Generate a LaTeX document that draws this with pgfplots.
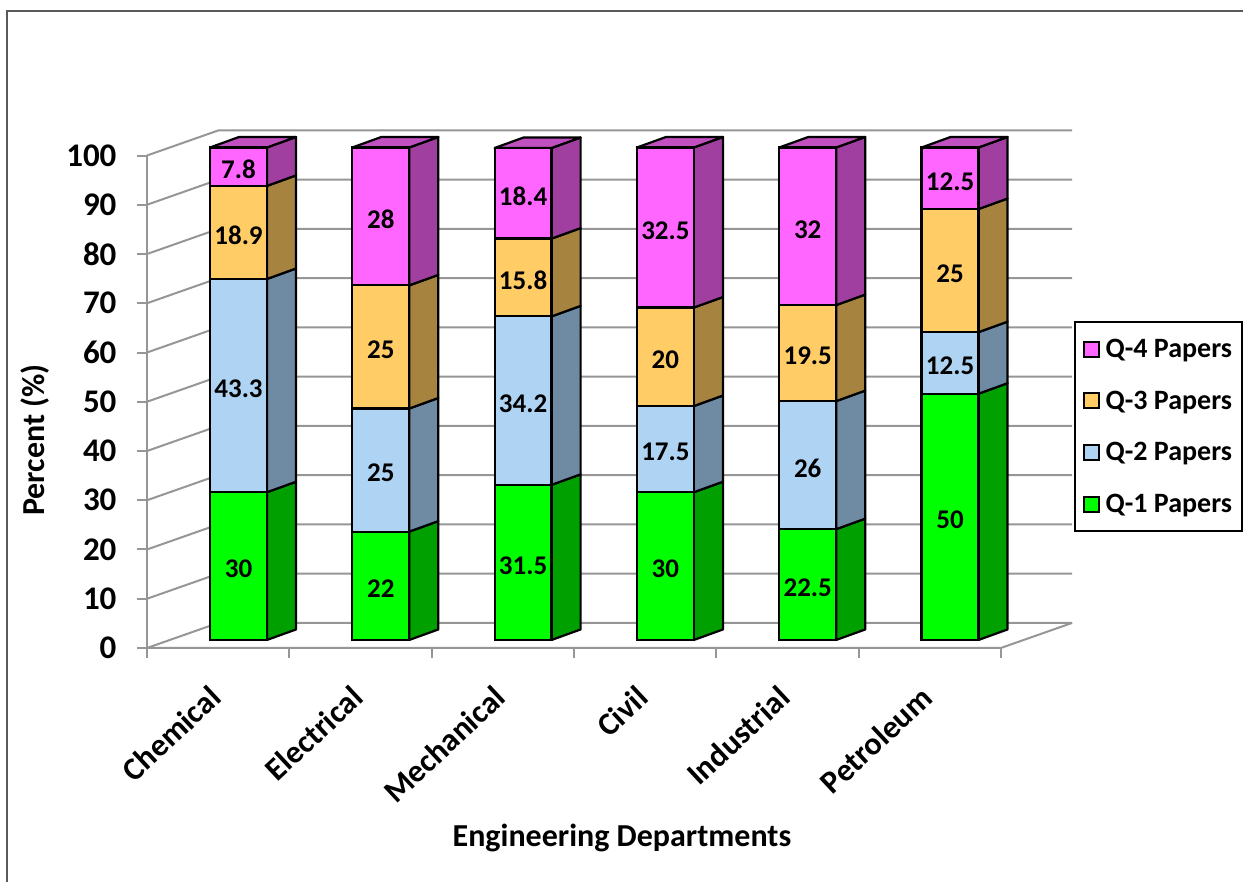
\documentclass[border=0pt]{standalone}
\usepackage{pgfplots}
\usepackage{pgfplotstable}
\usepackage{fontspec}
\setmainfont{Carlito}
\pgfplotsset{compat=1.18}

\definecolor{wallgray}{HTML}{969696}
\definecolor{qfour}{HTML}{FF66FF}
\definecolor{qthree}{HTML}{FFCC66}
\definecolor{qtwo}{HTML}{AFD3F3}
\definecolor{qone}{HTML}{00FF00}
\definecolor{qfourside}{HTML}{A03FA0}
\definecolor{qthreeside}{HTML}{A6833F}
\definecolor{qtwoside}{HTML}{6F8AA3}
\definecolor{qoneside}{HTML}{00A000}
\definecolor{qfourtop}{HTML}{C04FC0}

\pgfplotstableread{
x     base q1   q2   q3   q4
0.143 1.63 30   43.3 18.9 7.8
1.143 1.63 22   25   25   28
2.143 1.63 31.5 34.2 15.8 18.4
3.143 1.63 30   17.5 20   32.5
4.143 1.63 22.5 26   19.5 32
5.143 1.63 50   12.5 25   12.5
}\papers

\pgfplotsset{
  chartbox/.style={
    scale only axis, width=925pt, height=517.5pt,
    at={(147pt,234pt)}, anchor=south west,
    xmin=-0.5, xmax=6, ymin=0, ymax=105.08,
  },
  wall/.style={draw=wallgray, line width=2pt, forget plot},
  barlabel/.style={
    nodes near coords,
    point meta=explicit symbolic,
    every node near coord/.style={
      anchor=center, font=\fontsize{27}{32}\selectfont\bfseries, text=black,
      yshift=-3pt,
    },
  },
}

% side face of one bar segment, category k, from lo to hi
\newcommand\sideface[4]{%
  \pgfmathsetmacro\xa{#1+0.343}%
  \pgfmathsetmacro\xb{#1+0.547}%
  \pgfmathsetmacro\ya{1.63+#2}%
  \pgfmathsetmacro\yb{3.76+#2}%
  \pgfmathsetmacro\yc{3.76+#3}%
  \pgfmathsetmacro\yd{1.63+#3}%
  \addplot[fill=#4, draw=black, line width=2.2pt, line join=round, forget plot]
    coordinates {(\xa,\ya) (\xb,\yb) (\xb,\yc) (\xa,\yd)} -- cycle;
}
% all four side faces and the top of a bar, from the stacked boundaries
\newcommand\sidebar[5]{%
  \sideface{#1}{0}{#2}{qoneside}
  \sideface{#1}{#2}{#3}{qtwoside}
  \sideface{#1}{#3}{#4}{qthreeside}
  \sideface{#1}{#4}{#5}{qfourside}
  \pgfmathsetmacro\xl{#1-0.057}%
  \pgfmathsetmacro\xr{#1+0.343}%
  \pgfmathsetmacro\xs{#1+0.147}%
  \pgfmathsetmacro\xt{#1+0.547}%
  \pgfmathsetmacro\yl{1.63+#5}%
  \pgfmathsetmacro\yh{3.76+#5}%
  \addplot[fill=qfourtop, draw=black, line width=2.2pt, line join=round, forget plot]
    coordinates {(\xl,\yl) (\xs,\yh) (\xt,\yh) (\xr,\yl)} -- cycle;
}

\begin{document}
\begin{tikzpicture}[x=1pt,y=1pt]
\useasboundingbox (0,0) rectangle (1243,882);
\draw[color=black!65, line width=2.5pt] (7,0) -- (7,871) -- (1243,871);

% walls, floor, side faces, legend
\begin{axis}[
  chartbox,
  axis line style={draw=none},
  xtick pos=bottom, ytick pos=left,
  tick align=outside,
  major tick length=10pt,
  tick style={draw=wallgray, line width=2pt},
  xtick={-0.5,0.5,1.5,2.5,3.5,4.5,5.5},
  xticklabels={Chemical,Electrical,Mechanical,Civil,Industrial,Petroleum,},
  ytick={0,10,...,100},
  yticklabel style={/pgf/number format/assume math mode=true},
  ticklabel style={font=\fontsize{33}{40}\selectfont\bfseries},
  xticklabel style={font=\fontsize{32}{38}\selectfont\bfseries, rotate=43, anchor=north east, xshift=30pt, yshift=-57pt},
  yticklabel style={xshift=-17pt},
  xlabel={Engineering Departments},
  ylabel={Percent (\%)},
  label style={font=\fontsize{32}{38}\selectfont\bfseries},
  xlabel style={at={(axis description cs:0.5135,-0.367)}, anchor=center},
  ylabel style={at={(axis description cs:-0.121,0.402)}, anchor=center},
  clip=false,
  legend cell align=left,
  legend image code/.code={
    \draw[#1, line width=2pt] (3pt,-7.5pt) rectangle (18pt,7.5pt);
    \path (22pt,0pt);
  },
  legend style={
    at={(axis description cs:1.1849,0.4276)}, anchor=east,
    draw=black, line width=2pt,
    font=\fontsize{28}{33}\selectfont\bfseries,
    row sep=27.8pt, inner xsep=8pt, inner ysep=15pt,
  },
]
  \addlegendimage{fill=qfour, draw=black}
  \addlegendentry{Q-4 Papers}
  \addlegendimage{fill=qthree, draw=black}
  \addlegendentry{Q-3 Papers}
  \addlegendimage{fill=qtwo, draw=black}
  \addlegendentry{Q-2 Papers}
  \addlegendimage{fill=qone, draw=black}
  \addlegendentry{Q-1 Papers}

  \addplot[wall] coordinates {(-0.5,0) (-0.5,100)};
  \addplot[wall] coordinates {(-0.5,0) (5.5,0) (6,5.08)};
  \addplot[wall] coordinates {(-0.5,0) (0,5.08) (6,5.08)};
  \addplot[wall] coordinates {(-0.5,10) (0,15.08) (6,15.08)};
  \addplot[wall] coordinates {(-0.5,20) (0,25.08) (6,25.08)};
  \addplot[wall] coordinates {(-0.5,30) (0,35.08) (6,35.08)};
  \addplot[wall] coordinates {(-0.5,40) (0,45.08) (6,45.08)};
  \addplot[wall] coordinates {(-0.5,50) (0,55.08) (6,55.08)};
  \addplot[wall] coordinates {(-0.5,60) (0,65.08) (6,65.08)};
  \addplot[wall] coordinates {(-0.5,70) (0,75.08) (6,75.08)};
  \addplot[wall] coordinates {(-0.5,80) (0,85.08) (6,85.08)};
  \addplot[wall] coordinates {(-0.5,90) (0,95.08) (6,95.08)};
  \addplot[wall] coordinates {(-0.5,100) (0,105.08) (6,105.08)};

  \sidebar{0}{30}{73.3}{92.2}{100}
  \sidebar{1}{22}{47}{72}{100}
  \sidebar{2}{31.5}{65.7}{81.5}{99.9}
  \sidebar{3}{30}{47.5}{67.5}{100}
  \sidebar{4}{22.5}{48.5}{68}{100}
  \sidebar{5}{50}{62.5}{87.5}{100}
\end{axis}

% front faces of the bars
\begin{axis}[
  chartbox,
  hide axis,
  clip=false,
  ybar stacked,
  bar width=0.4,
  every axis plot/.append style={draw=black, line width=2.2pt},
]
  \addplot[draw=none, fill=none] table[x=x, y=base] {\papers};
  \addplot[fill=qone, barlabel] table[x=x, y=q1, meta=q1] {\papers};
  \addplot[fill=qtwo, barlabel] table[x=x, y=q2, meta=q2] {\papers};
  \addplot[fill=qthree, barlabel] table[x=x, y=q3, meta=q3] {\papers};
  \addplot[fill=qfour, barlabel] table[x=x, y=q4, meta=q4] {\papers};
\end{axis}
\end{tikzpicture}
\end{document}
